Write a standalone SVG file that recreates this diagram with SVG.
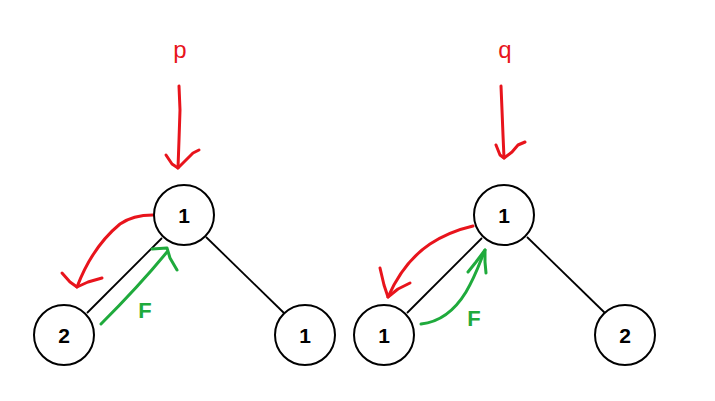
<svg xmlns="http://www.w3.org/2000/svg" width="715" height="401" viewBox="0 0 715 401">
<style>
.node circle{fill:#fff;stroke:#000;stroke-width:2}
.node text{font-family:"Liberation Sans",Arial,sans-serif;font-size:21px;font-weight:bold;fill:#000;text-anchor:middle;dominant-baseline:central}
.edge{stroke:#000;stroke-width:1.8;fill:none}
.red{stroke:#e8141c;stroke-width:3;fill:none;stroke-linecap:round;stroke-linejoin:round}
.green{stroke:#1faa3c;stroke-width:3;fill:none;stroke-linecap:round;stroke-linejoin:round}
.lblr{font-family:"Liberation Sans",Arial,sans-serif;font-size:24px;fill:#e8141c;text-anchor:middle}
.lblg{font-family:"Liberation Sans",Arial,sans-serif;font-size:22px;font-weight:bold;fill:#1faa3c;text-anchor:middle}
</style>
<rect width="715" height="401" fill="#fff"/>
<g id="connectors">
<line class="edge" x1="162" y1="238" x2="87" y2="313"/>
<line class="edge" x1="206" y1="237" x2="284" y2="313"/>
<line class="edge" x1="482" y1="238" x2="407" y2="313"/>
<line class="edge" x1="527" y1="237" x2="605" y2="313"/>
</g>
<g id="annotations">
<text class="lblr" x="180" y="58">p</text>
<path class="red" d="M179,86 L180,110 L179,140 L178,168"/>
<path class="red" d="M166,155 L172,164 L178,168 L186,160 L193,153 L199,150"/>
<text class="lblr" x="505" y="58">q</text>
<path class="red" d="M501,86 L502,110 L503,135 L504,158"/>
<path class="red" d="M496,145 L500,155 L504,158 L512,152 L518,145 L525,142"/>
<path class="red" d="M153,215 C140,215 130,217 120,224 C103,238 88,258 77,287"/>
<path class="red" d="M62,273 L70,282 L77,287 L88,282 L102,278"/>
<path class="green" d="M101,324 C120,305 140,285 167,252"/>
<path class="green" d="M152,249 L167,248 L170,258 L177,270"/>
<text class="lblg" x="145" y="318">F</text>
<path class="red" d="M473,226 C460,229 447,233 430,244 C415,254 400,270 388,297"/>
<path class="red" d="M380,268 L384,285 L388,297 L398,289 L410,283"/>
<path class="green" d="M421,324 C440,322 455,310 466,292 C476,275 480,262 485,250"/>
<path class="green" d="M468,272 L476,262 L485,250 L485,262 L486,273"/>
<text class="lblg" x="474" y="326">F</text>
</g>
<g id="n1" class="node"><circle cx="184" cy="215" r="30"/><text x="184" y="215">1</text></g>
<g id="n2" class="node"><circle cx="64" cy="335" r="30"/><text x="64" y="335">2</text></g>
<g id="n3" class="node"><circle cx="305" cy="335" r="30"/><text x="305" y="335">1</text></g>
<g id="n4" class="node"><circle cx="504" cy="215" r="30"/><text x="504" y="215">1</text></g>
<g id="n5" class="node"><circle cx="384" cy="335" r="30"/><text x="384" y="335">1</text></g>
<g id="n6" class="node"><circle cx="625" cy="335" r="30"/><text x="625" y="335">2</text></g>
</svg>
